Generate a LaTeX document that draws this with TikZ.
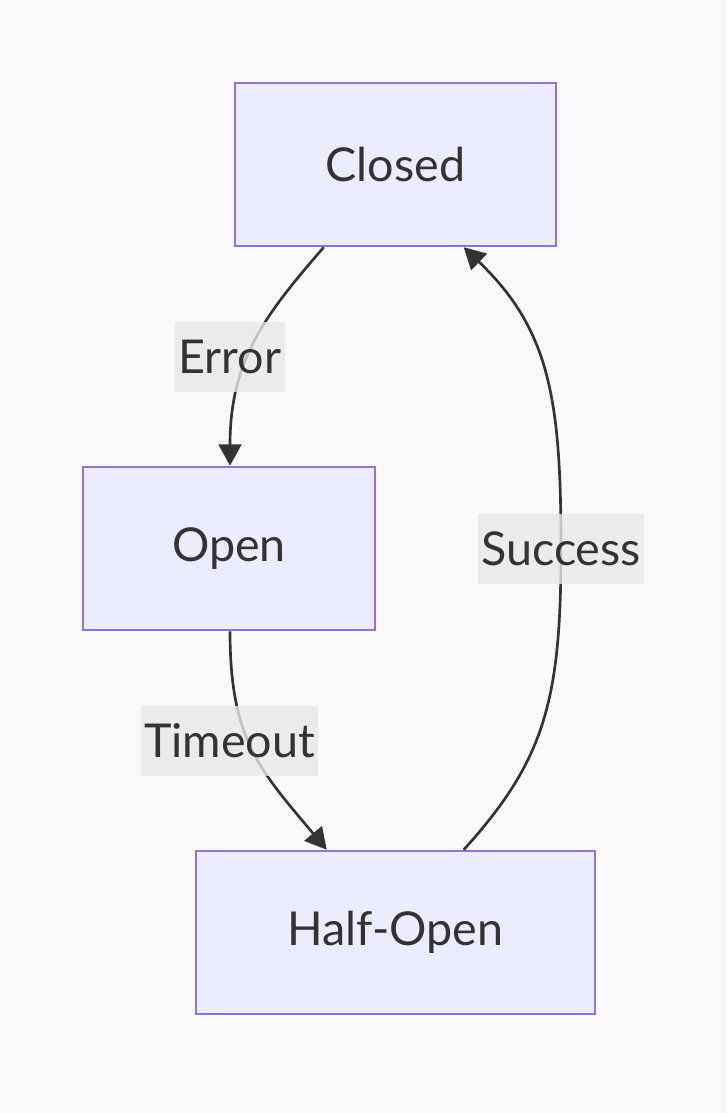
\documentclass[tikz,border=0pt]{standalone}
\usepackage{fontspec}
\setmainfont{Lato}
\usepackage{tikz}
\usetikzlibrary{arrows.meta, calc, positioning}

\definecolor{bgcol}{HTML}{F9F9FB}
\definecolor{boxfill}{HTML}{ECECFF}
\definecolor{boxline}{HTML}{9370DB}
\definecolor{ink}{HTML}{333333}
\definecolor{lblfill}{HTML}{E8E8E8}

\begin{document}
\begin{tikzpicture}[x=0.75pt, y=-0.75pt,
    state/.style={draw=boxline, fill=boxfill, line width=1.9pt,
      minimum height=122.25pt, inner sep=0pt, text=ink,
      font=\fontsize{35}{42}\selectfont},
    lbl/.style={fill=lblfill, fill opacity=0.8, text opacity=1, text=ink,
      minimum height=52.5pt, inner xsep=2.5pt, inner ysep=0pt,
      font=\fontsize{35}{42}\selectfont},
    trans/.style={draw=ink, line width=2pt,
      -{Triangle[length=16pt, width=17pt]}}]

  \fill[bgcol] (0,0) rectangle (726,1113);
  \useasboundingbox (0,0) rectangle (726,1113);

  \node[state, minimum width=240.75pt] (closed) at (395.5,164.5) {Closed};
  \node[state, minimum width=219pt] (open) at (229,548.5) {Open};
  \node[state, minimum width=299.25pt] (halfopen) at (395.5,932.5) {Half-Open};

  \coordinate (errstart) at ($ (closed.south west)+(90,0) $);
  \coordinate (okend) at ($ (closed.south west)+(230,0) $);
  \coordinate (tmend) at ($ (halfopen.north west)+(132,0) $);
  \coordinate (okstart) at ($ (halfopen.north west)+(269,0) $);

  \draw[trans] (errstart) .. controls (265,315) and (230,360) .. (open.north -| 230,0);
  \draw[trans] (open.south -| 230,0) .. controls (230,740) and (260,770) .. (tmend);
  \draw[trans] (okstart) .. controls (545,760) and (561,700) .. (561,548.5)
    .. controls (561,400) and (550,330) .. (okend);

  \node[lbl] (error) at (230,357) {Error};
  \node[lbl] (timeout) at (229.5,740.5) {Timeout};
  \node[lbl] (success) at (561,548.5) {Success};

\end{tikzpicture}
\end{document}
